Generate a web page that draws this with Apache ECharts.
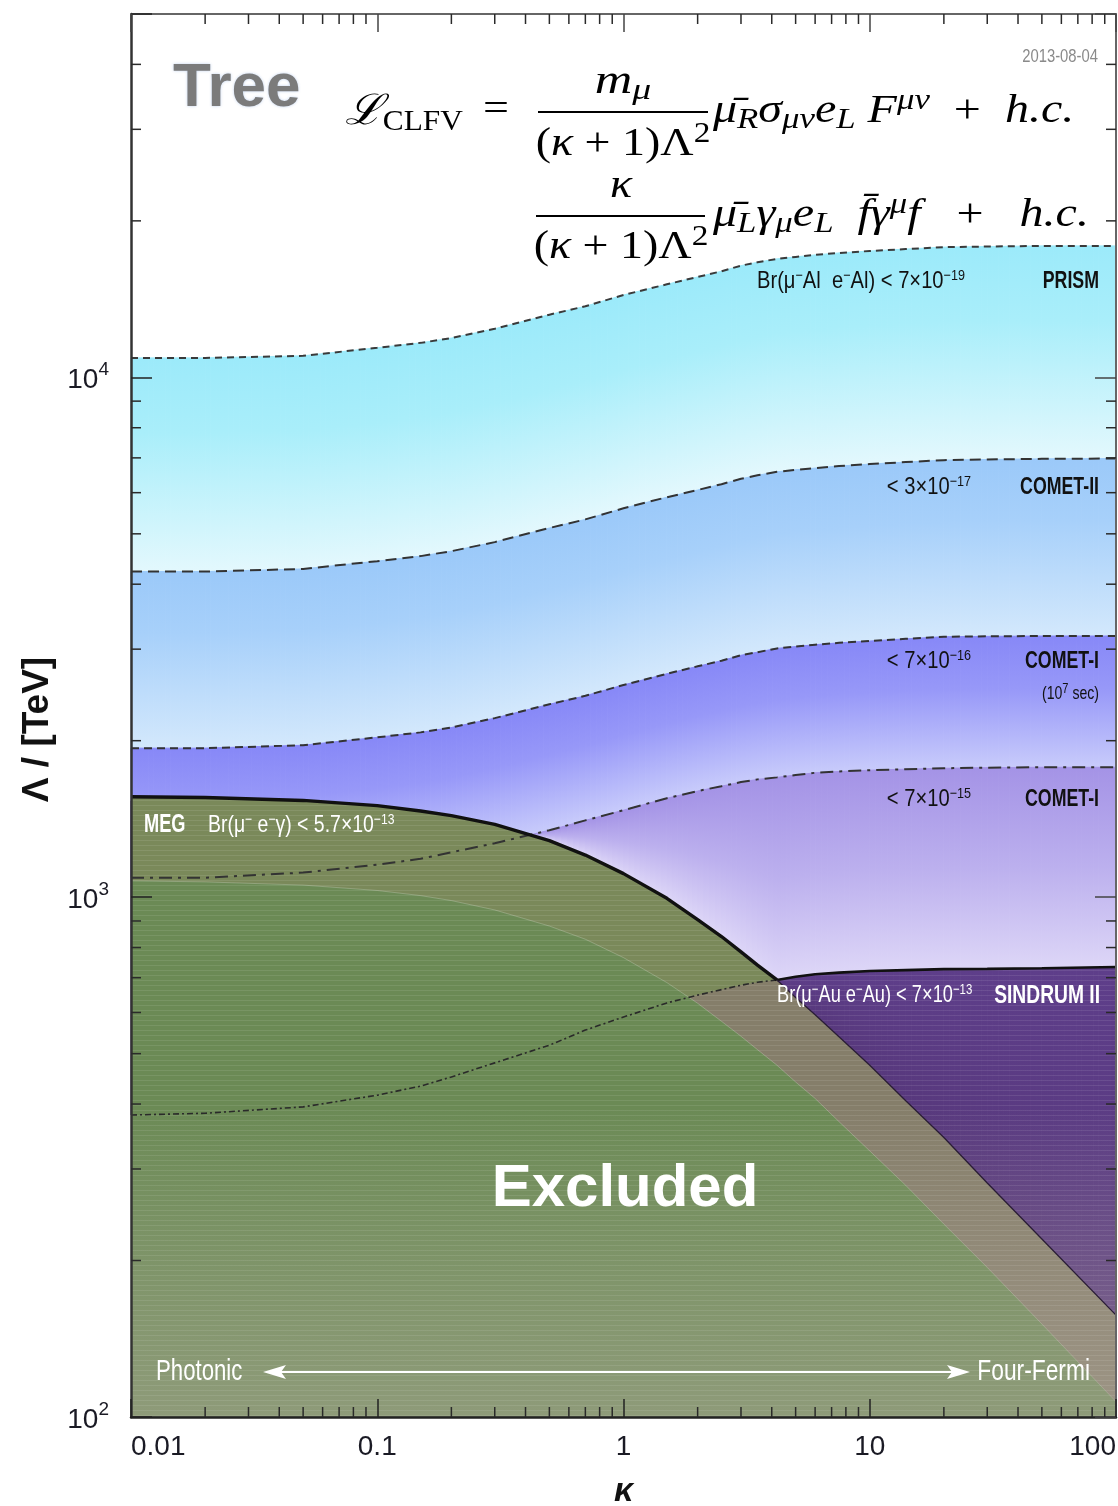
<!DOCTYPE html>
<html>
<head>
<meta charset="utf-8">
<script src="https://cdn.jsdelivr.net/npm/echarts@6.0.0/dist/echarts.min.js"></script>
<style>
  html, body { margin: 0; padding: 0; background: #fff; }
  #chart { width: 1118px; height: 1506px; }
</style>
</head>
<body>
<div id="chart"></div>
<script>
// κ sample points and the Λ limits (TeV) at those points
const KAPPA = [0.01, 0.02, 0.05, 0.1, 0.15, 0.2, 0.3, 0.5, 0.7, 1, 1.5, 2, 2.5, 3, 3.5, 4.2, 5, 6, 7.5, 10, 14, 20, 30, 50, 100];
const PRISM = [10900, 10900, 11000, 11400, 11650, 11900, 12400, 13200, 13700, 14400, 15100, 15600, 16000, 16400, 16650, 16900, 17050, 17200, 17350, 17500, 17650, 17800, 17850, 17900, 17900];
const COMET2 = [4230, 4230, 4280, 4430, 4530, 4630, 4820, 5130, 5330, 5600, 5880, 6070, 6230, 6380, 6480, 6580, 6640, 6690, 6750, 6810, 6870, 6930, 6950, 6970, 6980];
const COMET1_1E7 = [1935, 1935, 1960, 2030, 2075, 2120, 2210, 2350, 2440, 2560, 2690, 2780, 2850, 2920, 2960, 3010, 3035, 3060, 3085, 3110, 3140, 3170, 3175, 3180, 3180];
const COMET1 = [1090, 1090, 1115, 1155, 1185, 1220, 1270, 1345, 1405, 1470, 1550, 1600, 1635, 1665, 1685, 1700, 1718, 1735, 1745, 1755, 1763, 1770, 1775, 1778, 1778];
const SINDRUM = [381, 384, 395, 416, 433, 451, 480, 519, 555, 588, 626, 648, 664, 677, 686, 693, 703, 711, 716, 721, 724, 727, 728, 730, 734];
const MEG = [1560, 1555, 1535, 1500, 1465, 1435, 1380, 1285, 1205, 1110, 995, 905, 840, 785, 740, 693, 641, 594, 539, 475, 406, 345, 282, 220, 157];
const MEG_INNER = [1075, 1070, 1055, 1030, 1007, 985, 945, 880, 830, 765, 685, 625, 577, 540, 509, 475, 441, 410, 370, 325, 279, 235, 194, 151, 107];

const X_LABELS = [0.01, 0.1, 1, 10, 100];
const Y_LABELS = [100, 1000, 10000];
const X_MIN = 0.01, X_MAX = 100, Y_MIN = 100, Y_MAX = 50000;
const MINOR_MULT = [2, 3, 4, 5, 6, 7, 8, 9];
const X_DECADES = [0.01, 0.1, 1, 10];
const Y_DECADES = [100, 1000, 10000];

const I_CROSS = KAPPA.indexOf(4.2); // MEG meets SINDRUM II
const UPPER_EXCL = KAPPA.map((k, i) => Math.max(MEG[i], SINDRUM[i]));
const LOWER_EXCL = KAPPA.map((k, i) => Math.min(MEG[i], SINDRUM[i]));

const xMinor = [];
X_DECADES.forEach(d => MINOR_MULT.forEach(m => xMinor.push(d * m)));
const yMinor = [];
Y_DECADES.forEach(d => MINOR_MULT.forEach(m => { if (d * m < Y_MAX) yMinor.push(d * m); }));

const pairs = (arr, from, to) => KAPPA.map((k, i) => [k, arr[i]]).slice(from, to);
const near = (v, list) => list.find(l => Math.abs(Math.log10(v) - Math.log10(l)) < 1e-6);

// stripes of the old scan
const stripe = document.createElement('canvas');
stripe.width = 8; stripe.height = 5;
const sctx = stripe.getContext('2d');
sctx.fillStyle = 'rgba(255,255,255,0.09)';
sctx.fillRect(0, 0, 8, 1);

// band between two curves; each segment is cut in thin slices so the fade follows the curves
function band(upper, lower, stops, z) {
  const lerp = (p, q, t) => [p[0] + (q[0] - p[0]) * t, p[1] + (q[1] - p[1]) * t];
  return {
    type: 'custom', z: z, silent: true,
    renderItem(params, api) {
      const i = api.value(2);
      const a = api.coord([KAPPA[i], upper[i]]);
      const b = api.coord([KAPPA[i + 1], upper[i + 1]]);
      const c = api.coord([KAPPA[i + 1], lower[i + 1]]);
      const d = api.coord([KAPPA[i], lower[i]]);
      const n = Math.max(1, Math.ceil((b[0] - a[0]) / 6));
      const kids = [];
      for (let s = 0; s < n; s++) {
        const u0 = lerp(a, b, s / n), u1 = lerp(a, b, (s + 1) / n);
        const l0 = lerp(d, c, s / n), l1 = lerp(d, c, (s + 1) / n);
        const yT = (u0[1] + u1[1]) / 2, yB = (l0[1] + l1[1]) / 2 + 0.01;
        const g = new echarts.graphic.LinearGradient(0, yT, 0, yB, stops, true);
        kids.push({ type: 'polygon', shape: { points: [u0, u1, [l1[0], l1[1] + 4], [l0[0], l0[1] + 4]] },
          style: { fill: g, stroke: g, lineWidth: 1 } });
      }
      return { type: 'group', children: kids };
    },
    data: KAPPA.slice(0, -1).map((k, i) => [k, upper[i], i])
  };
}

function fill(arr, color, z, extra) {
  return Object.assign({
    type: 'line', z: z, silent: true, showSymbol: false, animation: false,
    data: pairs(arr),
    lineStyle: { opacity: 0 },
    areaStyle: { color: color, opacity: 1, origin: 'start' }
  }, extra || {});
}

function curve(data, color, width, type, z) {
  return {
    type: 'line', z: z || 6, silent: true, showSymbol: false, animation: false,
    data: data,
    lineStyle: { color: color, width: width, type: type }
  };
}

function minorTicks(vals, isX) {
  return {
    type: 'custom', z: 20, silent: true, clip: false,
    renderItem(params, api) {
      const v = api.value(isX ? 0 : 1);
      const st = { stroke: '#2a2a2a', lineWidth: 1.5 };
      if (isX) {
        const p = api.coord([v, Y_MIN]), q = api.coord([v, Y_MAX]);
        return { type: 'group', children: [
          { type: 'line', shape: { x1: p[0], y1: p[1], x2: p[0], y2: p[1] - 10 }, style: st },
          { type: 'line', shape: { x1: q[0], y1: q[1], x2: q[0], y2: q[1] + 10 }, style: st }
        ] };
      }
      const p = api.coord([X_MIN, v]), q = api.coord([X_MAX, v]);
      return { type: 'group', children: [
        { type: 'line', shape: { x1: p[0], y1: p[1], x2: p[0] + 10, y2: p[1] }, style: st },
        { type: 'line', shape: { x1: q[0], y1: q[1], x2: q[0] - 10, y2: q[1] }, style: st }
      ] };
    },
    data: vals.map(v => isX ? [v, Y_MIN] : [X_MIN, v])
  };
}

const LBL = 'Liberation Sans';
const SERIF = '"Liberation Serif", "DejaVu Serif", serif';
const SUP = { fontSize: 15, lineHeight: 15, verticalAlign: 'top', fontFamily: LBL };

function label(x, y, text, o) {
  o = o || {};
  const sup = Object.assign({}, SUP, { fill: o.fill || '#111' });
  return {
    type: 'text', x: x, y: y, z: 100, silent: true, scaleX: o.scale || 0.84,
    style: {
      text: text, fill: o.fill || '#111', fontFamily: LBL,
      fontSize: o.size || 24, fontWeight: o.bold ? 'bold' : 'normal',
      lineHeight: 26, textAlign: o.align || 'left', textVerticalAlign: 'middle',
      rich: { u: sup }
    }
  };
}

const MATH = {
  r: { fontFamily: SERIF, fontSize: 40, lineHeight: 48, fill: '#000' },
  i: { fontFamily: SERIF, fontStyle: 'italic', fontSize: 40, lineHeight: 48, fill: '#000' },
  sb: { fontFamily: SERIF, fontStyle: 'italic', fontSize: 29, lineHeight: 29, verticalAlign: 'bottom', fill: '#000' },
  sp: { fontFamily: SERIF, fontStyle: 'italic', fontSize: 29, lineHeight: 29, verticalAlign: 'top', fill: '#000' },
  sq: { fontFamily: SERIF, fontSize: 29, lineHeight: 29, verticalAlign: 'top', fill: '#000' },
  c: { fontFamily: SERIF, fontSize: 29, lineHeight: 29, verticalAlign: 'bottom', fill: '#000' },
  L: { fontFamily: SERIF, fontStyle: 'italic', fontSize: 42, lineHeight: 48, fill: '#000' }
};
function math(x, y, text, align, sx) {
  return {
    type: 'text', x: x, y: y, z: 100, silent: true, scaleX: sx || 1.15,
    style: { text: text, rich: MATH, fill: '#000', fontFamily: SERIF, fontSize: 40,
      textAlign: align || 'left', textVerticalAlign: 'middle' }
  };
}
function bar(x1, x2, y) {
  return { type: 'line', z: 100, silent: true, shape: { x1: x1, y1: y, x2: x2, y2: y }, style: { stroke: '#000', lineWidth: 1.8 } };
}

const axisLbl = { fontSize: 28, color: '#1a1a24', fontFamily: LBL };

const option = {
  animation: false,
  backgroundColor: '#fff',
  grid: { left: 131, top: 14, width: 985, height: 1403, outerBoundsMode: 'none', containLabel: false },
  xAxis: [
    {
      type: 'log', logBase: 10, min: X_MIN, max: X_MAX, position: 'bottom', z: 10,
      name: 'κ', nameLocation: 'middle', nameGap: 58,
      nameTextStyle: { fontSize: 34, fontWeight: 'bold', fontStyle: 'italic', color: '#111', fontFamily: LBL },
      axisLine: { show: true, onZero: false, lineStyle: { color: '#222', width: 2.5 } },
      axisTick: { show: true, inside: true, length: 18, lineStyle: { color: '#222', width: 1.5 } },
      axisLabel: Object.assign({ margin: 16, alignMinLabel: 'left', alignMaxLabel: 'right',
        formatter: v => { const l = near(v, X_LABELS); return l === undefined ? '' : String(l); } }, axisLbl),
      splitLine: { show: false }
    },
    {
      type: 'log', logBase: 10, min: X_MIN, max: X_MAX, position: 'top', z: 10,
      axisLine: { show: true, onZero: false, lineStyle: { color: '#666', width: 2 } },
      axisTick: { show: true, inside: true, length: 18, lineStyle: { color: '#444', width: 1.5 } },
      axisLabel: { show: false }, splitLine: { show: false }
    }
  ],
  yAxis: [
    {
      type: 'log', logBase: 10, min: Y_MIN, max: Y_MAX, position: 'left', z: 10,
      name: 'Λ / [TeV]', nameLocation: 'middle', nameGap: 72,
      nameTextStyle: { fontSize: 37, fontWeight: 'bold', color: '#111', fontFamily: LBL, padding: [0, 28, 0, 0] },
      axisLine: { show: true, onZero: false, lineStyle: { color: '#333', width: 2.5 } },
      axisTick: { show: true, inside: true, length: 21, lineStyle: { color: '#222', width: 1.5 } },
      axisLabel: {
        margin: 22,
        formatter: v => { const l = near(v, Y_LABELS); return l === undefined ? '' : '{b|10}{s|' + Math.round(Math.log10(l)) + '}'; },
        rich: {
          b: { fontSize: 28, lineHeight: 34, color: '#1a1a24', fontFamily: LBL, verticalAlign: 'bottom' },
          s: { fontSize: 19, lineHeight: 19, color: '#1a1a24', fontFamily: LBL, verticalAlign: 'top' }
        }
      },
      splitLine: { show: false }
    },
    {
      type: 'log', logBase: 10, min: Y_MIN, max: Y_MAX, position: 'right', z: 10,
      axisLine: { show: true, onZero: false, lineStyle: { color: '#666', width: 2 } },
      axisTick: { show: true, inside: true, length: 21, lineStyle: { color: '#444', width: 1.5 } },
      axisLabel: { show: false }, splitLine: { show: false }
    }
  ],
  series: [
    // sensitivity bands
    band(PRISM, COMET2, [{ offset: 0, color: '#9ceafa' }, { offset: 0.35, color: '#a9eefa' }, { offset: 1, color: '#e3f8fd' }], 1),
    band(COMET2, COMET1_1E7, [{ offset: 0, color: '#9bc9f9' }, { offset: 0.35, color: '#a7d0fa' }, { offset: 1, color: '#d3e8fc' }], 1),
    band(COMET1_1E7, COMET1, [{ offset: 0, color: '#8788f7' }, { offset: 0.4, color: '#9798f8' }, { offset: 1, color: '#c8cbfb' }], 1),
    band(COMET1, UPPER_EXCL, [{ offset: 0, color: '#a493e6' }, { offset: 0.5, color: '#bcb0ee' }, { offset: 1, color: '#ddd6f7' }], 1),
    // excluded regions
    band(SINDRUM, MEG, [{ offset: 0, color: '#5e3e8a' }, { offset: 1, color: '#57387c' }], 2),
    fill(MEG, '#7a895a', 3),
    fill(LOWER_EXCL, '#857e6a', 3),
    fill(MEG_INNER, '#6b8a55', 3, { lineStyle: { color: 'rgba(255,255,255,0.22)', width: 1 } }),
    fill(UPPER_EXCL, new echarts.graphic.LinearGradient(0, 0, 0, 1, [
      { offset: 0, color: 'rgba(200,190,180,0)' }, { offset: 0.5, color: 'rgba(200,190,180,0)' },
      { offset: 1, color: 'rgba(185,175,165,0.45)' }]), 4),
    fill(UPPER_EXCL, { image: stripe, repeat: 'repeat' }, 4),
    // limit curves
    curve(pairs(PRISM), '#3a3a3a', 2, [7, 5]),
    curve(pairs(COMET2), '#333', 2, [11, 6]),
    curve(pairs(COMET1_1E7), '#333', 2, [8, 5]),
    curve(pairs(COMET1), '#333', 2, [13, 6, 3, 6]),
    curve(pairs(SINDRUM, 0, I_CROSS + 1), '#2a2a2a', 1.6, [6, 3, 2, 3]),
    curve(pairs(SINDRUM, I_CROSS), '#111', 2.6, 'solid'),
    curve(pairs(MEG, 0, I_CROSS + 1), '#111', 3.4, 'solid'),
    curve(pairs(MEG, I_CROSS), '#2a1d36', 1.3, 'solid'),
    // minor ticks
    minorTicks(xMinor, true),
    minorTicks(yMinor, false)
  ],
  graphic: [
    { type: 'text', x: 173, y: 89, z: 100, silent: true,
      style: { text: 'Tree', fill: '#7b7b7b', fontFamily: LBL, fontWeight: 'bold', fontSize: 62,
        textVerticalAlign: 'middle', textShadowColor: 'rgba(70,120,200,0.35)', textShadowBlur: 3 } },
    label(1098, 57, '2013-08-04', { fill: '#8a8a8a', size: 19, align: 'right', scale: 0.78 }),
    // Lagrangian
    math(345, 113, '{L|ℒ}{c|CLFV}', 'left', 1.08),
    math(496, 110, '=', 'center', 1.15),
    math(623, 82, '{i|m}{sb|μ}', 'center', 1.3),
    bar(538, 708, 112),
    math(623, 144, '{r|(}{i|κ}{r| + 1)Λ}{sq|2}', 'center'),
    math(713, 111, '{i|μ\u0304}{sb|R}{i|σ}{sb|μν}{i|e}{sb|L}{r| }{i|F}{sp|μν}{r|  +  }{i|h.c.}', 'left', 1.2),
    math(621, 186, '{i|κ}', 'center'),
    bar(536, 705, 216),
    math(621, 247, '{r|(}{i|κ}{r| + 1)Λ}{sq|2}', 'center'),
    math(713, 215, '{i|μ\u0304}{sb|L}{i|γ}{sb|μ}{i|e}{sb|L}{r|  }{i|f\u0304}{i|γ}{sp|μ}{i|f}{r|   +   }{i|h.c.}', 'left', 1.2),
    // experiment labels
    label(757, 281, 'Br(μ{u|−}Al  e{u|−}Al) < 7×10{u|−19}'),
    label(1099, 281, 'PRISM', { bold: true, align: 'right', scale: 0.74 }),
    label(971, 487, '< 3×10{u|−17}', { align: 'right' }),
    label(1099, 487, 'COMET-II', { bold: true, align: 'right', scale: 0.74 }),
    label(971, 661, '< 7×10{u|−16}', { align: 'right' }),
    label(1099, 661, 'COMET-I', { bold: true, align: 'right', scale: 0.74 }),
    label(1099, 694, '(10{u|7} sec)', { align: 'right', size: 19, scale: 0.74 }),
    label(971, 799, '< 7×10{u|−15}', { align: 'right' }),
    label(1099, 799, 'COMET-I', { bold: true, align: 'right', scale: 0.74 }),
    label(144, 825, 'MEG', { fill: '#fff', bold: true, size: 26, scale: 0.7 }),
    label(208, 825, 'Br(μ{u|−} e{u|−}γ) < 5.7×10{u|−13}', { fill: '#fff', scale: 0.81 }),
    label(777, 995, 'Br(μ{u|−}Au e{u|−}Au) < 7×10{u|−13}', { fill: '#fff', scale: 0.76 }),
    label(1100, 996, 'SINDRUM II', { fill: '#fff', bold: true, size: 26, align: 'right', scale: 0.74 }),
    { type: 'text', x: 625, y: 1189, z: 100, silent: true,
      style: { text: 'Excluded', fill: '#fff', fontFamily: LBL, fontWeight: 'bold', fontSize: 60,
        textAlign: 'center', textVerticalAlign: 'middle' } },
    label(156, 1372, 'Photonic', { fill: '#fff', size: 30, scale: 0.74 }),
    label(1090, 1372, 'Four-Fermi', { fill: '#fff', size: 30, align: 'right', scale: 0.76 }),
    { type: 'line', z: 100, silent: true, shape: { x1: 272, y1: 1372, x2: 958, y2: 1372 }, style: { stroke: '#fff', lineWidth: 2 } },
    { type: 'polygon', z: 100, silent: true, shape: { points: [[263, 1372], [286, 1365], [281, 1372], [286, 1379]] }, style: { fill: '#fff' } },
    { type: 'polygon', z: 100, silent: true, shape: { points: [[970, 1372], [947, 1365], [952, 1372], [947, 1379]] }, style: { fill: '#fff' } }
  ]
};

const chart = echarts.init(document.getElementById('chart'));
chart.setOption(option);
window.addEventListener('resize', () => chart.resize());
</script>
</body>
</html>
